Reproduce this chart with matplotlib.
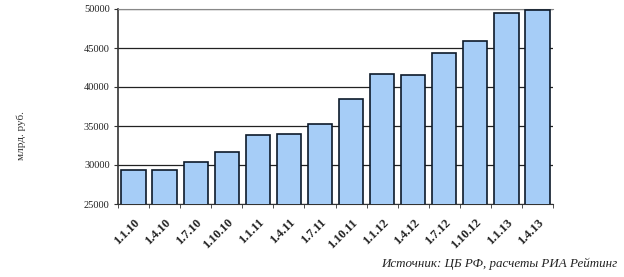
import matplotlib
matplotlib.use('Agg')
import matplotlib.pyplot as plt
import numpy as np

# даты и объемы (млрд. руб.)
dates = ['1.1.10', '1.4.10', '1.7.10', '1.10.10', '1.1.11', '1.4.11', '1.7.11',
         '1.10.11', '1.1.12', '1.4.12', '1.7.12', '1.10.12', '1.1.13', '1.4.13']
values = [29400, 29300, 30400, 31700, 33800, 34000, 35200,
          38500, 41650, 41500, 44300, 45900, 49550, 49900]
yticks = [25000, 30000, 35000, 40000, 45000, 50000]

plt.rcParams['font.family'] = ['Liberation Serif', 'DejaVu Serif']

fig = plt.figure(figsize=(6.24, 2.77), dpi=100)
ax = fig.add_axes([118/624, 1-204/277, (553-118)/624, (204-9)/277])

x = np.arange(len(dates))
ax.bar(x, values, width=0.78, color='#a6cdf7', edgecolor='#0d1a2a', linewidth=1.2, zorder=3)

ax.set_xlim(-0.5, len(dates)-0.5)
ax.set_ylim(25000, 50000)
ax.set_yticks(yticks)
ax.set_yticklabels([str(v) for v in yticks], fontsize=7.5, color='#222222')
ax.yaxis.grid(True, color='#222222', linewidth=0.9, zorder=0)
ax.set_xticks(x)
ax.set_xticklabels(dates, rotation=45, ha='right', rotation_mode='anchor', fontsize=9,
                   fontweight='bold', color='#222222')
ax.set_xticks(np.arange(-0.5, len(dates)), minor=True)
ax.tick_params(axis='x', which='major', length=0, pad=9)
ax.tick_params(axis='x', which='minor', length=3, color='#333333')
ax.tick_params(axis='y', length=3, pad=3, color='#333333')

ax.spines['right'].set_visible(False)
ax.spines['top'].set_color('#888888')
ax.spines['left'].set_color('#333333')
ax.spines['left'].set_linewidth(1.2)
ax.spines['bottom'].set_color('#333333')

fig.text(21/624, 1-136/277, 'млрд. руб.', rotation=90, ha='center', va='center', fontsize=8,
         color='#333333')
fig.text(617/624, 1-264/277, 'Источник: ЦБ РФ, расчеты РИА Рейтинг', ha='right', va='center',
         fontsize=9.4, style='italic', color='#222222')

fig.savefig('out.png', dpi=100)
